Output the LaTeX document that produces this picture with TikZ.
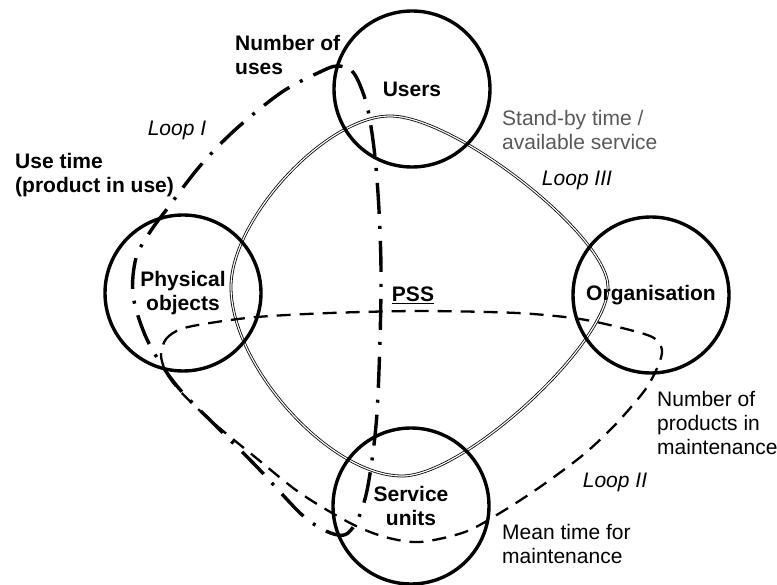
\documentclass[tikz,border=0pt]{standalone}
\usepackage{fontspec}
\setmainfont{Liberation Sans}
\definecolor{labelgray}{RGB}{89,89,89}
\begin{document}
\begin{tikzpicture}[x=1pt,y=-1pt,
  entity/.style={circle,draw,line width=3.4pt,minimum size=156pt,inner sep=0pt,align=center,font=\bfseries\fontsize{21}{24}\selectfont},
  lbl/.style={inner sep=0pt,align=left,font=\fontsize{21}{24}\selectfont},
  boldlbl/.style={lbl,font=\bfseries\fontsize{21}{24}\selectfont},
  looplbl/.style={inner sep=0pt,font=\itshape\fontsize{21}{24}\selectfont},
  loopone/.style={line width=3.4pt,dash pattern=on 31pt off 12pt on 3pt off 12pt},
  looptwo/.style={line width=2.3pt,dash pattern=on 14pt off 9pt},
  loopthree/.style={draw=black,line width=0.8pt,double=white,double distance=1.2pt}]
\useasboundingbox (0,0) rectangle (777,585);

% Loop III (double line)
\draw[loopthree] (231,287) .. controls (231,219) and (326,116) .. (390,116)
  .. controls (455,116) and (608,236) .. (608,287)
  .. controls (608,344) and (464,476) .. (402,476)
  .. controls (330,476) and (231,366) .. cycle;

% Loop I (dash-dot)
\draw[loopone] plot[smooth cycle,tension=0.55] coordinates {
  (337,66) (352,71) (362,90) (369,115) (375,157) (379,210) (381,270)
  (380,340) (377,413) (372,460) (366,495) (358,519) (348,533) (338,535)
  (322,529) (300,513) (257,467) (215,425) (183,393) (163,367) (145,335)
  (133,295) (136,258) (150,232) (167,209) (200,166) (236,129) (282,92) (320,72)};

% Loop II (dashed)
\draw[looptwo] plot[smooth cycle,tension=0.5] coordinates {
  (161,355) (166,339) (181,329) (210,323) (257,317) (330,313) (420,311)
  (517,313) (580,319) (630,330) (654,338) (662,350) (658,366) (645,390)
  (615,425) (583,455) (540,487) (500,513) (465,532) (420,542) (385,537)
  (350,523) (300,493) (255,457) (210,420) (180,391) (166,372)};

% Entities
\node[entity] (users) at (412,89) {Users};
\node[entity] (phys) at (183,293) {Physical\\objects};
\node[entity] (org) at (651,295) {Organisation};
\node[entity] (serv) at (411,506) {Service\\units};

% Labels
\node[boldlbl,anchor=west] (nuses) at (235,55) {Number of\\uses};
\node[boldlbl,anchor=west] (usetime) at (15,175) {Use time\\(product in use)};
\node[looplbl] (loopI) at (177,130) {Loop I};
\node[lbl,anchor=west,text=labelgray] (standby) at (502,130) {Stand-by time /\\available service};
\node[looplbl] (loopIII) at (577,180) {Loop III};
\node[boldlbl] (pss) at (413,295) {\underline{PSS}};
\node[lbl,anchor=west] (nprod) at (657,423) {Number of\\products in\\maintenance};
\node[looplbl] (loopII) at (615,482) {Loop II};
\node[lbl,anchor=west] (mtime) at (502,544) {Mean time for\\maintenance};
\end{tikzpicture}
\end{document}
